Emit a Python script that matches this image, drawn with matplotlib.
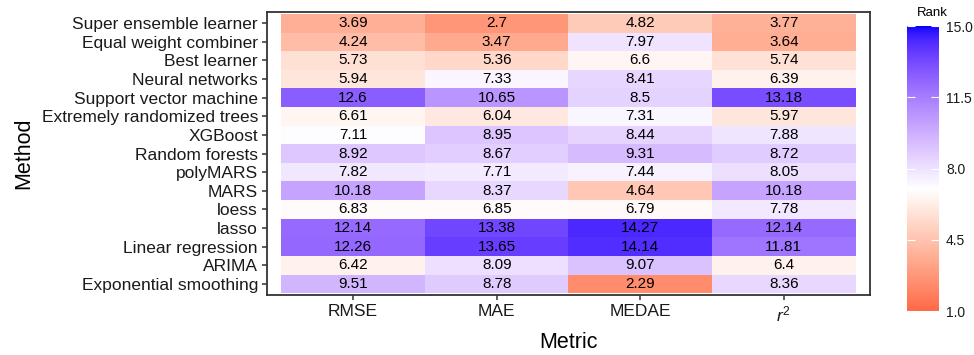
import numpy as np
import matplotlib
matplotlib.use("Agg")
import matplotlib.pyplot as plt
from matplotlib.colors import ListedColormap, Normalize

plt.rcParams["font.family"] = ["Liberation Sans", "DejaVu Sans"]
plt.rcParams["mathtext.fontset"] = "custom"
plt.rcParams["mathtext.rm"] = "Liberation Sans"
plt.rcParams["mathtext.it"] = "Liberation Sans:italic"

methods = ["Super ensemble learner", "Equal weight combiner", "Best learner",
           "Neural networks", "Support vector machine", "Extremely randomized trees",
           "XGBoost", "Random forests", "polyMARS", "MARS", "loess", "lasso",
           "Linear regression", "ARIMA", "Exponential smoothing"]
metrics = ["RMSE", "MAE", "MEDAE", "$r^2$"]

rmse = [3.69, 4.24, 5.73, 5.94, 12.6, 6.61, 7.11, 8.92, 7.82, 10.18, 6.83, 12.14, 12.26, 6.42, 9.51]
mae = [2.7, 3.47, 5.36, 7.33, 10.65, 6.04, 8.95, 8.67, 7.71, 8.37, 6.85, 13.38, 13.65, 8.09, 8.78]
medae = [4.82, 7.97, 6.6, 8.41, 8.5, 7.31, 8.44, 9.31, 7.44, 4.64, 6.79, 14.27, 14.14, 9.07, 2.29]
r2 = [3.77, 3.64, 5.74, 6.39, 13.18, 5.97, 7.88, 8.72, 8.05, 10.18, 7.78, 12.14, 11.81, 6.4, 8.36]

ranks = np.column_stack([rmse, mae, medae, r2])


# diverging red-white-blue scale, interpolated in CIE Lab
def srgb_to_lab(rgb):
    c = np.asarray(rgb, float)
    c = np.where(c <= 0.04045, c / 12.92, ((c + 0.055) / 1.055) ** 2.4)
    m = np.array([[0.4124, 0.3576, 0.1805],
                  [0.2126, 0.7152, 0.0722],
                  [0.0193, 0.1192, 0.9505]])
    xyz = m @ c / np.array([0.95047, 1.0, 1.08883])
    f = np.where(xyz > 0.008856, np.cbrt(xyz), 7.787 * xyz + 16 / 116)
    return np.array([116 * f[1] - 16, 500 * (f[0] - f[1]), 200 * (f[1] - f[2])])


def lab_to_srgb(lab):
    L, a, b = lab
    fy = (L + 16) / 116
    fx = fy + a / 500
    fz = fy - b / 200
    f = np.array([fx, fy, fz])
    xyz = np.where(f ** 3 > 0.008856, f ** 3, (f - 16 / 116) / 7.787)
    xyz = xyz * np.array([0.95047, 1.0, 1.08883])
    m = np.array([[3.2406, -1.5372, -0.4986],
                  [-0.9689, 1.8758, 0.0415],
                  [0.0557, -0.2040, 1.0570]])
    c = m @ xyz
    c = np.where(c <= 0.0031308, 12.92 * c, 1.055 * np.clip(c, 0, None) ** (1 / 2.4) - 0.055)
    return np.clip(c, 0, 1)


low, mid, high = srgb_to_lab([1, 0, 0]), srgb_to_lab([1, 1, 1]), srgb_to_lab([0, 0, 1])
vmin, vmax, midpoint = 1, 15, 7
colors = []
for v in np.linspace(vmin, vmax, 512):
    t = (v - midpoint) / 8
    end = high if t > 0 else low
    colors.append(lab_to_srgb(mid + abs(t) * (end - mid)))
cmap = ListedColormap(colors)
norm = Normalize(vmin, vmax)

fig = plt.figure(figsize=(9.74, 3.55), dpi=100)
ax = fig.add_axes([0.2741, 0.169, 0.6191, 0.797])

x = np.arange(len(metrics) + 1) - 0.5
y = np.arange(len(methods) + 1) - 0.5
mesh = ax.pcolormesh(x, y, ranks, cmap=cmap, norm=norm)

for i in range(len(methods)):
    for j in range(len(metrics)):
        ax.text(j, i, f"{ranks[i, j]:g}", ha="center", va="center",
                fontsize=11, color="black")

ax.set_xlim(-0.6, 3.6)
ax.set_ylim(14.6, -0.6)
ax.set_xticks(range(len(metrics)))
ax.set_xticklabels(metrics)
ax.set_yticks(range(len(methods)))
ax.set_yticklabels(methods)
ax.tick_params(length=3.5, width=1.1, color="#333333", labelsize=12.5,
               labelcolor="#1a1a1a", pad=3)
for s in ax.spines.values():
    s.set_color("#333333")
    s.set_linewidth(1.3)
ax.set_xlabel("Metric", fontsize=15.5, labelpad=6)
ax.set_ylabel("Method", fontsize=15.5, labelpad=5)

# colour bar legend
cax = fig.add_axes([0.9312, 0.1239, 0.0329, 0.8028])
cb = fig.colorbar(mesh, cax=cax)
cb.outline.set_visible(False)
cb.set_ticks([1, 4.5, 8, 11.5, 15])
cb.ax.set_yticklabels(["1.0", "4.5", "8.0", "11.5", "15.0"])
cb.ax.tick_params(direction="in", color="white", length=6, width=0.8,
                  left=True, right=True, labelsize=10, labelcolor="#1a1a1a", pad=5)
fig.text(0.9415, 0.963, "Rank", ha="left", va="center", fontsize=9.5)

fig.savefig("out.png", dpi=100)
